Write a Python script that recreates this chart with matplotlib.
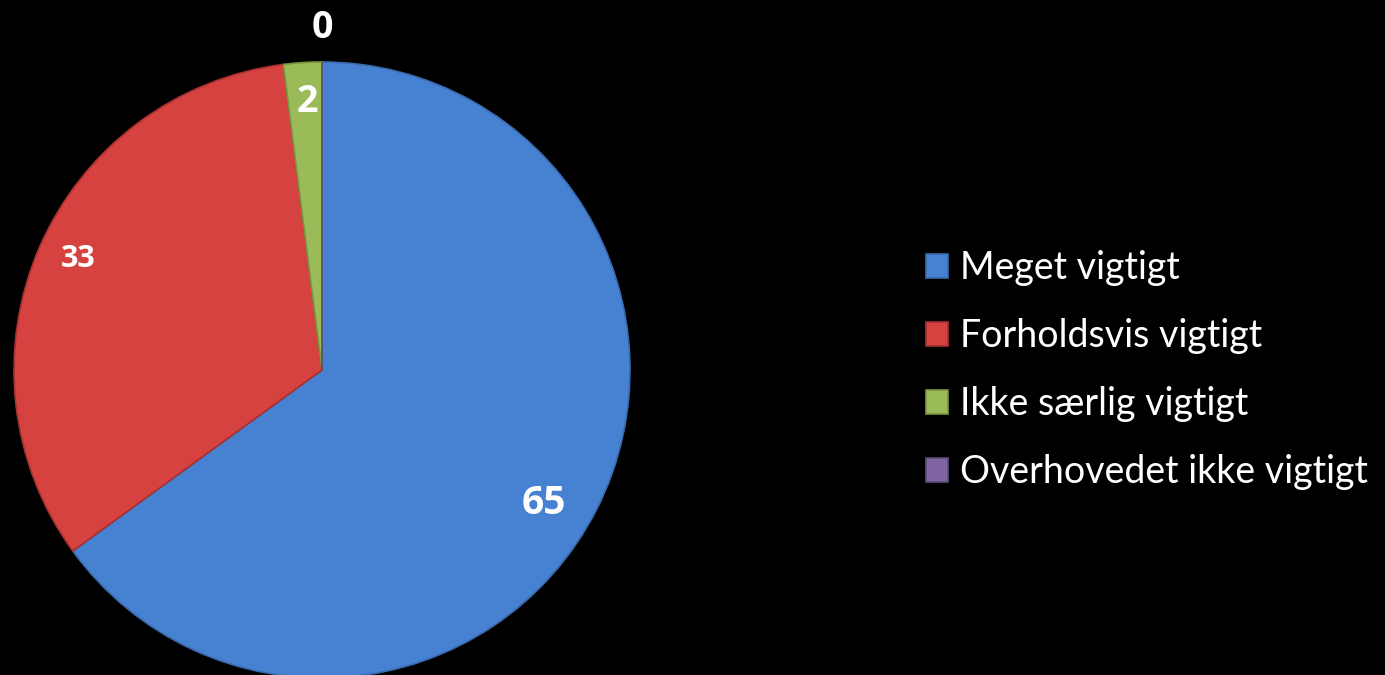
import matplotlib.pyplot as plt
import numpy as np

# data
categories = ['Meget vigtigt', 'Forholdsvis vigtigt', 'Ikke særlig vigtigt', 'Overhovedet ikke vigtigt']
values = [65, 33, 2, 0]
value_labels = ['65', '33', '2', '0']

colors = ['#4782d2', '#d6423f', '#9bbb59', '#8064a2']
edge_colors = ['#3a6aab', '#a8302e', '#79953f', '#5f4a7c']
label_sizes = [28, 22, 27, 27]
label_radius = [0.84, 0.87, 0.87, 1.11]
label_shift = [-4, -1, -0.5, 0]   # small angle nudges (degrees)

plt.rcParams['font.family'] = ['Lato', 'DejaVu Sans']

fig = plt.figure(figsize=(13.85, 6.75), dpi=100)
fig.patch.set_facecolor('black')

# pie axis: centre ~ (322, 370) px, radius ~308 px
ax = fig.add_axes([14 / 1385, -3 / 675, 616 / 1385, 616 / 675])
ax.set_facecolor('black')

wedges, _ = ax.pie(values, colors=colors, startangle=90, counterclock=False,
                   radius=1.0, wedgeprops=dict(linewidth=1.2))
for w, ec in zip(wedges, edge_colors):
    w.set_edgecolor(ec)

# value labels placed at each wedge's mid angle
for w, txt, fs, r, sh in zip(wedges, value_labels, label_sizes, label_radius, label_shift):
    mid = np.deg2rad((w.theta1 + w.theta2) / 2 + sh)
    ax.text(r * np.cos(mid), r * np.sin(mid), txt, ha='center', va='center',
            color='white', fontsize=fs, fontweight='bold',
            family=['Open Sans', 'DejaVu Sans'])

ax.set_xlim(-1, 1)
ax.set_ylim(-1, 1)
ax.set_aspect('equal')
ax.axis('off')

leg = fig.legend(wedges, categories, loc='center left',
                 bbox_to_anchor=(892 / 1385, 1 - 370 / 675),
                 frameon=False, fontsize=27, labelcolor='white',
                 handlelength=0.6, handleheight=0.6, handletextpad=0.3,
                 labelspacing=0.85)

fig.savefig('out.png', dpi=100, facecolor='black')
